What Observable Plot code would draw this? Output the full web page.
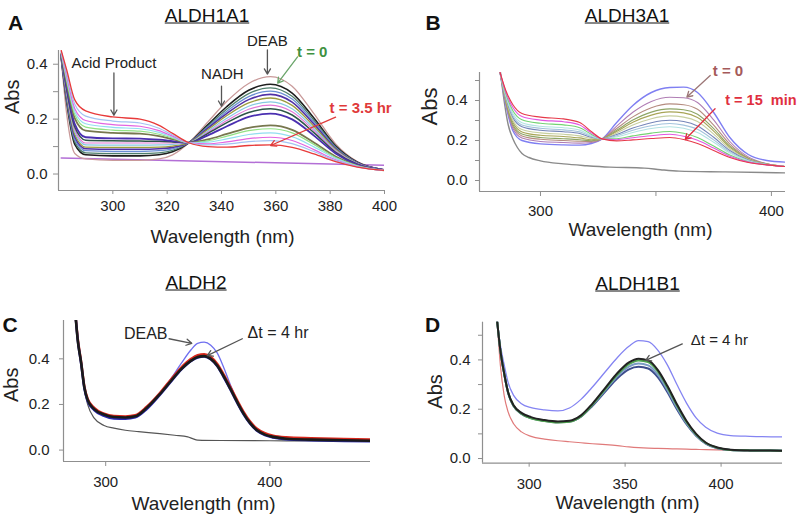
<!DOCTYPE html>
<html><head><meta charset="utf-8">
<script src="https://cdn.jsdelivr.net/npm/d3@7"></script>
<script src="https://cdn.jsdelivr.net/npm/@observablehq/plot@0.6"></script>
<style>
body{margin:0;background:#fff;font-family:Arial,"Liberation Sans",sans-serif;}
#root{position:relative;width:800px;height:520px;overflow:hidden;background:#fff}
.ttl{position:absolute;font-size:19px;text-decoration:underline;color:#111;transform:translate(-50%,-50%);line-height:1;white-space:nowrap}
.let{position:absolute;font-size:21px;font-weight:bold;color:#111;transform:translate(-50%,-50%);line-height:1}
</style></head><body><div id="root"></div>
<script>
// ---------------- DATA ----------------
const panelTitles = ["ALDH1A1", "ALDH3A1", "ALDH2", "ALDH1B1"];
const panelLetters = ["A", "B", "C", "D"];
const xTitle = "Wavelength (nm)";
const yTitle = "Abs";

// Panel A (ALDH1A1): spectra from DEAB / t = 0 to t = 3.5 hr
const wlA = [281, 283, 286, 290, 300, 310, 317, 322, 328, 335, 342, 350, 358, 366, 374, 382, 390, 400];
const absA = [
  [.420, .220, .075, .055, .050, .050, .055, .070, .114, .190, .265, .330, .355, .320, .220, .110, .045, .015],
  [.423, .263, .108, .070, .066, .066, .070, .081, .114, .180, .246, .305, .327, .295, .204, .103, .043, .015],
  [.425, .270, .117, .077, .074, .074, .077, .086, .114, .175, .237, .293, .314, .283, .196, .099, .042, .015],
  [.426, .276, .126, .085, .082, .082, .085, .092, .114, .171, .229, .282, .302, .273, .189, .096, .041, .015],
  [.428, .283, .135, .092, .090, .090, .092, .097, .114, .167, .221, .271, .290, .262, .182, .093, .040, .015],
  [.429, .289, .144, .098, .097, .097, .098, .102, .114, .162, .213, .259, .277, .250, .174, .090, .039, .014],
  [.431, .296, .153, .106, .105, .105, .106, .108, .114, .157, .203, .247, .263, .238, .166, .086, .038, .014],
  [.432, .302, .162, .113, .113, .113, .113, .113, .114, .152, .195, .236, .251, .227, .159, .083, .037, .014],
  [.434, .309, .171, .123, .121, .120, .119, .117, .114, .148, .187, .224, .238, .215, .151, .079, .036, .014],
  [.435, .316, .182, .134, .130, .129, .125, .120, .114, .141, .174, .208, .220, .199, .140, .075, .034, .014],
  [.439, .332, .203, .158, .150, .147, .138, .127, .114, .126, .146, .168, .177, .161, .115, .064, .031, .013],
  [.441, .341, .216, .171, .160, .156, .145, .131, .114, .121, .138, .158, .165, .150, .108, .060, .030, .013],
  [.443, .349, .227, .183, .170, .165, .152, .134, .114, .116, .128, .144, .150, .136, .099, .057, .029, .013],
  [.445, .357, .238, .195, .180, .174, .158, .138, .114, .110, .117, .129, .134, .122, .089, .052, .027, .013],
  [.447, .368, .254, .211, .193, .186, .167, .142, .114, .106, .109, .118, .122, .111, .082, .049, .026, .013],
  [.450, .380, .270, .230, .208, .200, .177, .148, .114, .100, .098, .104, .106, .097, .073, .045, .025, .013]
];
const wlA_base = [281, 400];
const absA_base = [0.058, 0.032];
const annA = [
  {text: "Acid Product", x: 300.4, y: 0.405},
  {text: "NADH", x: 340.3, y: 0.364},
  {text: "DEAB", x: 356.9, y: 0.483}
];
const arrA = [
  {x1: 300.4, y1: 0.368, x2: 300.4, y2: 0.214},
  {x1: 340.0, y1: 0.320, x2: 340.0, y2: 0.247},
  {x1: 356.9, y1: 0.452, x2: 356.9, y2: 0.364}
];
const annA_t0 = [{text: "t = 0", x: 373.4, y: 0.445, x1: 368.0, y1: 0.427, x2: 360.7, y2: 0.331}];
const annA_tEnd = [{text: "t = 3.5 hr", x: 391.2, y: 0.240, x1: 382.0, y1: 0.207, x2: 358.1, y2: 0.104}];

// Panel B (ALDH3A1): t = 0 to t = 15 min
const wlB = [282.5, 285, 288, 292, 300, 310, 317, 322, 326.7, 333, 340, 348, 356, 362, 368, 375, 382, 390, 398, 406];
const absB = [
  [.54, .380, .250, .200, .183, .178, .177, .185, .208, .290, .375, .440, .465, .467, .440, .340, .215, .130, .100, .092],
  [.54, .386, .262, .212, .195, .190, .187, .190, .208, .272, .341, .395, .416, .414, .390, .303, .195, .118, .084, .070],
  [.54, .392, .272, .223, .206, .200, .196, .195, .208, .260, .318, .364, .383, .379, .356, .277, .182, .113, .083, .070],
  [.54, .397, .281, .232, .215, .209, .204, .199, .208, .251, .302, .342, .358, .354, .331, .259, .172, .110, .082, .070],
  [.54, .402, .292, .243, .226, .220, .213, .204, .208, .245, .291, .327, .343, .338, .315, .247, .166, .108, .082, .070],
  [.54, .409, .303, .255, .238, .231, .223, .210, .208, .238, .277, .309, .323, .317, .295, .232, .158, .105, .081, .070],
  [.54, .416, .316, .269, .251, .244, .235, .216, .208, .230, .262, .289, .301, .295, .273, .216, .150, .102, .080, .070],
  [.54, .421, .325, .278, .261, .253, .243, .220, .208, .224, .251, .274, .285, .277, .256, .203, .143, .100, .080, .070],
  [.54, .426, .336, .289, .271, .264, .252, .225, .208, .218, .240, .260, .269, .261, .240, .191, .137, .098, .079, .070],
  [.54, .434, .350, .304, .286, .278, .264, .231, .208, .209, .223, .237, .245, .236, .215, .172, .127, .094, .079, .070],
  [.54, .442, .366, .320, .302, .294, .278, .238, .208, .204, .214, .224, .231, .221, .201, .162, .121, .092, .078, .070],
  [.54, .450, .380, .335, .317, .308, .290, .245, .208, .198, .203, .210, .215, .205, .185, .150, .115, .090, .078, .070]
];
const wlB_base = [282.7, 284, 286, 288, 290, 292, 295, 300, 310, 320, 330, 345, 352, 360, 380, 406];
const absB_base = [.54, .42, .28, .21, .165, .135, .115, .098, .083, .074, .067, .062, .054, .047, .043, .038];
const annB_t0 = [{text: "t = 0", x: 381.2, y: 0.545, x1: 373.5, y1: 0.525, x2: 363.4, y2: 0.417}];
const annB_tEnd = [{text: "t = 15\u00a0 min", x: 380.0, y: 0.400, x1: 375.6, y1: 0.359, x2: 362.7, y2: 0.205}];

// Panel C (ALDH2)
const wlC = [281.5, 283, 285, 287, 289, 293, 299, 305, 312, 318, 325, 333, 340, 346, 352, 356, 360, 364, 368, 372, 376, 380, 384, 388, 392, 397, 402, 410, 425, 445, 461];
const absC_deab = [.60, .48, .385, .278, .222, .182, .158, .147, .145, .150, .187, .248, .315, .380, .440, .468, .473, .460, .425, .360, .285, .218, .163, .120, .090, .070, .060, .051, .047, .044, .042];
const absC_red = [.60, .49, .39, .28, .225, .185, .160, .150, .148, .153, .190, .250, .312, .362, .400, .416, .420, .408, .378, .330, .276, .220, .168, .125, .095, .074, .063, .056, .052, .049, .047];
const absC_navy = [.60, .48, .38, .27, .215, .175, .150, .138, .137, .143, .180, .242, .302, .352, .390, .405, .410, .398, .367, .318, .265, .208, .157, .115, .085, .065, .055, .047, .043, .040, .038];
const absC_black = [.60, .48, .385, .275, .220, .180, .156, .145, .143, .148, .185, .245, .305, .355, .392, .408, .412, .400, .370, .322, .268, .212, .160, .118, .088, .068, .058, .050, .046, .043, .041];
const wlC_base = [281.5, 283, 285, 287, 289, 293, 299, 305, 312, 320, 333, 342, 350, 353, 356, 370, 400, 430, 461];
const absC_base = [.60, .48, .375, .265, .200, .140, .108, .096, .087, .081, .072, .065, .058, .050, .044, .042, .041, .040, .040];
const annC = [
  {text: "DEAB", x: 324.4, y: 0.509, x1: 338.6, y1: 0.488, x2: 352.4, y2: 0.468},
  {text: "\u0394t = 4 hr", x: 405.0, y: 0.513, x1: 383.2, y1: 0.488, x2: 361.9, y2: 0.414}
];

// Panel D (ALDH1B1)
const wlD = [283.3, 285, 287, 289, 292, 296, 301, 308, 315, 321, 327, 333, 340, 346, 352, 357, 362, 367, 372, 377, 382, 387, 392, 398, 405, 415, 432];
const absD_deab = [.56, .46, .38, .31, .255, .222, .206, .197, .193, .205, .240, .290, .355, .410, .455, .478, .474, .440, .380, .300, .225, .165, .127, .103, .093, .090, .088];
const absD_navy = [.56, .44, .344, .268, .212, .181, .164, .153, .147, .150, .170, .214, .275, .326, .362, .372, .365, .330, .270, .200, .139, .092, .060, .042, .035, .033, .032];
const absD_steel = [.56, .44, .344, .268, .212, .182, .165, .154, .148, .151, .172, .218, .281, .335, .373, .385, .378, .341, .279, .207, .143, .094, .062, .043, .035, .033, .032];
const absD_green = [.56, .44, .345, .270, .213, .182, .163, .152, .146, .149, .171, .219, .285, .341, .383, .398, .391, .353, .289, .215, .148, .097, .063, .044, .035, .033, .032];
const absD_black = [.56, .44, .345, .270, .215, .185, .168, .156, .150, .153, .175, .223, .290, .347, .390, .405, .398, .360, .295, .220, .152, .100, .065, .045, .036, .033, .032];
const absD_base = [.56, .38, .255, .190, .140, .108, .090, .079, .072, .068, .064, .060, .056, .052, .047, .044, .042, .041, .040, .039, .038, .037, .036, .035, .034, .033, .032];
const annD = [{text: "\u0394t = 4 hr", x: 399.1, y: 0.479, x1: 379.8, y1: 0.465, x2: 360.7, y2: 0.398}];

// axis ticks
const ticksA_x = [300, 320, 340, 360, 380, 400];
const ticksB_x = [300, 400], ticksB_xMinor = [350];
const ticksC_x = [300, 400];
const ticksD_x = [300, 350, 400];
const ticksY = [0, 0.2, 0.4];
const ticksY_minor3 = [0.1, 0.3, 0.5];
const ticksY_minor2 = [0.1, 0.3];

// ---------------- STYLE / DRAW ----------------
const FONT = "Arial, 'Liberation Sans', Helvetica, sans-serif";
const AX = "#8f8f8f", TX = "#222";
const colA = ["#c99a9a", "#1e1e1e", "#4f7f6c", "#6b8fd4", "#5131a6", "#9c9b3e", "#86c9e2", "#e276d6",
              "#2d5548", "#4a2fb0", "#77774e", "#92e184", "#92def0", "#e265e2", "#a4c2f2", "#e83a3a"];
const wA = [1.3, 1.6, 1.3, 1.3, 1.6, 1.3, 1.2, 1.2, 1.5, 1.8, 1.8, 1.2, 1.2, 1.2, 1.2, 1.3];
const colB = ["#7f7ff2", "#b07db4", "#b58c80", "#8ea566", "#a8a556", "#c7cf9f", "#7585b8", "#a3c3dc",
              "#b3e3e3", "#74d374", "#e257e2", "#e6394a"];

const pts = (wl, vals) => wl.map((x, i) => ({x, y: vals[i]}));
const ln = (wl, vals, stroke, strokeWidth) =>
  Plot.line(pts(wl, vals), {x: "x", y: "y", stroke, strokeWidth, curve: "monotone-x", clip: true});

const root = document.getElementById("root");

function frameMarks(o) {
  const m = [
    Plot.ruleX([o.xd[0]], {y1: o.yd[0], y2: o.yd[1], stroke: AX, strokeWidth: 1.2}),
    Plot.ruleY([o.yd[0]], {x1: o.xd[0], x2: o.xd[1], stroke: AX, strokeWidth: 1.2}),
    Plot.axisX(o.xt, {anchor: "bottom", tickSize: o.xts, tickPadding: o.xtp, fontSize: 15, stroke: AX, fill: TX, label: null, tickFormat: d => String(d)}),
    Plot.axisY(ticksY, {anchor: "left", tickSize: o.yts, tickPadding: o.ytp, fontSize: 15, stroke: AX, fill: TX, label: null, tickFormat: d3.format(".1f")}),
    Plot.text([xTitle], {text: d => d, frameAnchor: "bottom", dx: o.xdx, dy: o.xdy, fontSize: 19, fill: TX, lineAnchor: "middle"}),
    Plot.text([yTitle], {text: d => d, frameAnchor: "left", dx: o.ydx, dy: o.ydy, rotate: -90, fontSize: o.yfs, fill: TX, lineAnchor: "middle"})
  ];
  if (o.xtm) m.push(Plot.axisX(o.xtm, {anchor: "bottom", tickSize: o.xts, stroke: AX, label: null, tickFormat: () => ""}));
  if (o.ytm) m.push(Plot.axisY(o.ytm, {anchor: "left", tickSize: o.yts, stroke: AX, label: null, tickFormat: () => ""}));
  return m;
}

function arrowMarks(data, stroke, fill, opts = {}) {
  return [
    Plot.arrow(data.filter(d => d.x1 !== undefined), {x1: "x1", y1: "y1", x2: "x2", y2: "y2", stroke, strokeWidth: 1.3, headLength: 7}),
    Plot.text(data, {x: "x", y: "y", text: "text", fill, fontSize: opts.fontSize || 15, fontWeight: opts.fontWeight || "normal", textAnchor: opts.textAnchor || "middle"})
  ];
}

function panel(o) {
  const svg = Plot.plot({
    width: 400, height: 260,
    marginLeft: o.ml, marginRight: o.mr, marginTop: o.mt, marginBottom: o.mb,
    x: {domain: o.xd}, y: {domain: o.yd},
    style: {fontFamily: FONT, background: "transparent", overflow: "visible"},
    marks: [...frameMarks(o), ...o.marks]
  });
  svg.style.position = "absolute";
  svg.style.left = o.left + "px";
  svg.style.top = o.top + "px";
  root.appendChild(svg);
}

// Panel A
panel({
  left: 0, top: 0, ml: 58, mr: 16, mt: 50, mb: 70,
  xd: [280, 400], yd: [-0.06, 0.45],
  xt: ticksA_x, xts: 4, xtp: 6, yts: 5, ytp: 6, ytm: ticksY_minor2,
  xdx: 1, xdy: 46, ydx: -45.5, ydy: -6.5, yfs: 20,
  marks: [
    ln(wlA_base, absA_base, "#b36fd6", 1.5),
    ...absA.map((v, i) => ln(wlA, v, colA[i], wA[i])),
    Plot.arrow(arrA, {x1: "x1", y1: "y1", x2: "x2", y2: "y2", stroke: "#555", strokeWidth: 1.3, headLength: 7}),
    Plot.text(annA, {x: "x", y: "y", text: "text", fill: TX, fontSize: 15}),
    ...arrowMarks(annA_t0, "#6aa56a", "#3f913f", {fontWeight: "bold"}),
    ...arrowMarks(annA_tEnd, "#e03a3a", "#e03a3a", {fontWeight: "bold"})
  ]
});

// Panel B
panel({
  left: 400, top: 0, ml: 79, mr: 15, mt: 72, mb: 69,
  xd: [273.6, 406.1], yd: [-0.055, 0.54],
  xt: ticksB_x, xtm: ticksB_xMinor, xts: 5, xtp: 9, yts: 4, ytp: 8, ytm: ticksY_minor3,
  xdx: 8, xdy: 38, ydx: -50, ydy: -6.5, yfs: 22,
  marks: [
    ln(wlB_base, absB_base, "#8a8a8a", 1.4),
    ...absB.map((v, i) => ln(wlB, v, colB[i], i === 0 ? 1.4 : 1.1)),
    ...arrowMarks(annB_t0, "#9c7676", "#a55a5a", {fontWeight: "bold"}),
    ...arrowMarks(annB_tEnd, "#e0303f", "#e0303f", {fontWeight: "bold", fontSize: 14.5, textAnchor: "start"})
  ]
});

// Panel C
panel({
  left: 0, top: 260, ml: 63, mr: 30, mt: 60, mb: 59,
  xd: [274.3, 461.3], yd: [-0.05, 0.568],
  xt: ticksC_x, xts: 5, xtp: 10, yts: 4, ytp: 10,
  xdx: -13.5, xdy: 42, ydx: -52, ydy: 11, yfs: 20,
  marks: [
    ln(wlC_base, absC_base, "#555", 1.2),
    ln(wlC, absC_deab, "#6f6ff0", 1.3),
    ln(wlC, absC_red, "#d8281c", 2.4),
    ln(wlC, absC_navy, "#2a2ab0", 2.4),
    ln(wlC, absC_black, "#1a1a1a", 2.6),
    ...arrowMarks(annC, "#555", TX, {fontSize: 16})
  ]
});

// Panel D
panel({
  left: 400, top: 260, ml: 82, mr: 18, mt: 61.7, mb: 57.3,
  xd: [275.7, 432], yd: [-0.019, 0.553],
  xt: ticksD_x, xts: 4, xtp: 11, yts: 4, ytp: 8, ytm: ticksY_minor3,
  xdx: -5, xdy: 40, ydx: -47, ydy: 16, yfs: 20,
  marks: [
    ln(wlD, absD_base, "#e07a7a", 1.2),
    ln(wlD, absD_deab, "#8484f2", 1.3),
    ln(wlD, absD_navy, "#3d4d8d", 2),
    ln(wlD, absD_steel, "#7b9cc4", 2),
    ln(wlD, absD_green, "#4fa34f", 2),
    ln(wlD, absD_black, "#222", 2),
    ...arrowMarks(annD, "#555", TX, {fontSize: 15})
  ]
});

// Titles and panel letters
const titlePos = [[207, 15], [627, 15], [196, 282], [637.5, 283]];
const letterPos = [[15.5, 22], [433, 22], [10, 324], [432.5, 324]];
panelTitles.forEach((t, i) => {
  const d = document.createElement("div");
  d.className = "ttl"; d.textContent = t;
  d.style.left = titlePos[i][0] + "px"; d.style.top = titlePos[i][1] + "px";
  root.appendChild(d);
});
panelLetters.forEach((t, i) => {
  const d = document.createElement("div");
  d.className = "let"; d.textContent = t;
  d.style.left = letterPos[i][0] + "px"; d.style.top = letterPos[i][1] + "px";
  root.appendChild(d);
});
</script></body></html>
